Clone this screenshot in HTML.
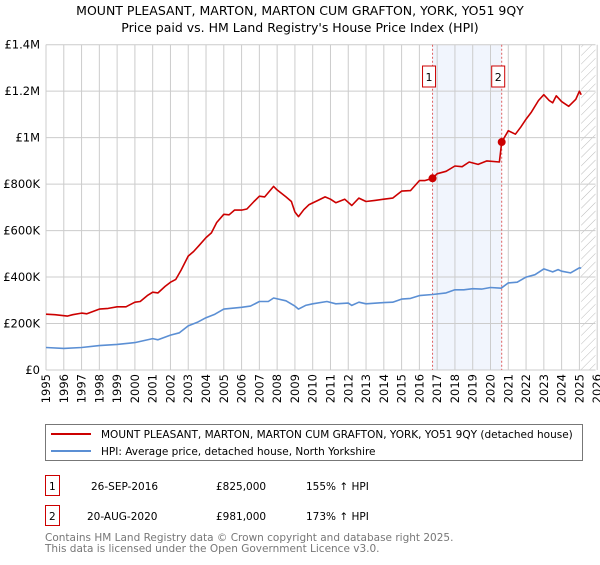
<!DOCTYPE html>
<html><head><meta charset="utf-8"><style>
body{margin:0;background:#fff;font-family:"Liberation Sans","DejaVu Sans",sans-serif;}
svg text{font-family:"DejaVu Sans","Liberation Sans",sans-serif;}
</style></head><body>
<svg id="c" width="600" height="560" xmlns="http://www.w3.org/2000/svg">
<text x="300" y="15" font-size="12.5" text-anchor="middle">MOUNT PLEASANT, MARTON, MARTON CUM GRAFTON, YORK, YO51 9QY</text>
<text x="300" y="32" font-size="12.5" text-anchor="middle">Price paid vs. HM Land Registry's House Price Index (HPI)</text>
<g id="plot"></g>
<rect x="45.5" y="424.5" width="537" height="36" fill="none" stroke="#777"/>
<line x1="51" y1="434" x2="91" y2="434" stroke="#cc0000" stroke-width="2"/>
<text x="101" y="438" font-size="10.5">MOUNT PLEASANT, MARTON, MARTON CUM GRAFTON, YORK, YO51 9QY (detached house)</text>
<line x1="51" y1="451" x2="91" y2="451" stroke="#5b8fd4" stroke-width="2"/>
<text x="101" y="455" font-size="10.5">HPI: Average price, detached house, North Yorkshire</text>
<g>
<rect x="45.5" y="475.5" width="14" height="20" fill="none" stroke="#cc0000"/>
<text x="49" y="490" font-size="10.5">1</text>
<text x="91" y="490" font-size="10.5">26-SEP-2016</text>
<text x="216" y="490" font-size="10.5">£825,000</text>
<text x="306" y="490" font-size="10.5">155% ↑ HPI</text></g>
<g>
<rect x="45.5" y="505.5" width="14" height="20" fill="none" stroke="#cc0000"/>
<text x="49" y="520" font-size="10.5">2</text>
<text x="87" y="520" font-size="10.5">20-AUG-2020</text>
<text x="216" y="520" font-size="10.5">£981,000</text>
<text x="306" y="520" font-size="10.5">173% ↑ HPI</text></g>
<text x="45" y="541" font-size="10.5" fill="#777">Contains HM Land Registry data © Crown copyright and database right 2025.</text>
<text x="45" y="552" font-size="10.5" fill="#777">This data is licensed under the Open Government Licence v3.0.</text>
</svg>
<script>
const yTicks=[0,200000,400000,600000,800000,1000000,1200000,1400000];
const yTickLabels=["£0","£200K","£400K","£600K","£800K","£1M","£1.2M","£1.4M"];
const years=[1995,1996,1997,1998,1999,2000,2001,2002,2003,2004,2005,2006,2007,2008,2009,2010,2011,2012,2013,2014,2015,2016,2017,2018,2019,2020,2021,2022,2023,2024,2025,2026];
const propT=[1995,1995.5,1996.2,1996.5,1997,1997.3,1998,1998.5,1999,1999.5,2000,2000.3,2000.7,2001,2001.3,2001.7,2002,2002.3,2002.6,2003,2003.3,2003.6,2004,2004.3,2004.6,2005,2005.3,2005.6,2006,2006.3,2006.7,2007,2007.3,2007.8,2008,2008.5,2008.8,2009,2009.2,2009.5,2009.8,2010.3,2010.7,2011,2011.3,2011.8,2012.2,2012.6,2013,2013.5,2014,2014.5,2015,2015.5,2016,2016.3,2016.74,2017,2017.5,2018,2018.4,2018.8,2019.3,2019.8,2020.5,2020.63,2021,2021.4,2021.7,2022,2022.3,2022.7,2023,2023.3,2023.5,2023.7,2024,2024.4,2024.8,2025,2025.1];
const propV=[240,238,232,238,245,242,262,265,272,272,292,295,320,335,332,360,378,390,430,490,510,535,570,590,635,670,668,688,688,693,725,748,745,790,775,745,725,680,660,690,712,730,745,735,720,735,708,740,725,730,735,740,770,772,815,815,825,845,855,878,875,895,885,900,895,981,1030,1015,1045,1080,1110,1160,1185,1160,1150,1180,1155,1135,1165,1200,1185];
const hpiT=[1995,1996,1997,1998,1999,2000,2001,2001.3,2002,2002.5,2003,2003.5,2004,2004.5,2005,2006,2006.5,2007,2007.5,2007.8,2008.5,2009,2009.2,2009.6,2010,2010.8,2011.3,2012,2012.2,2012.6,2013,2014,2014.5,2015,2015.5,2016,2016.74,2017.5,2018,2018.5,2019,2019.5,2020,2020.6,2021,2021.5,2022,2022.5,2023,2023.5,2023.8,2024,2024.5,2025,2025.1];
const hpiV=[97,93,97,105,110,118,135,130,150,160,190,205,225,240,262,270,275,295,295,310,298,275,262,278,285,295,285,288,278,292,285,290,292,305,308,320,325,332,345,345,350,348,355,352,375,378,400,410,435,422,432,425,418,440,438];
const saleT=[2016.74,2020.63];
const saleV=[825000,981000];
const saleLabels=["1","2"];
const X0=46,X1=595.5;
const x=t=>X0+(t-1995)*17.78;
const y=v=>370-v/1400000*325.3;
const NS="http://www.w3.org/2000/svg";
const g=document.getElementById('plot');
function mk(tag,attrs,parent){const e=document.createElementNS(NS,tag);for(const k in attrs)e.setAttribute(k,attrs[k]);(parent||g).appendChild(e);return e;}
// shading between sales
let sh=mk('rect',{x:x(saleT[0]),y:y(1400000),width:x(saleT[1])-x(saleT[0]),height:y(0)-y(1400000),fill:'#eef3fc',opacity:0.8});


// hatch region
const defs=mk('defs',{});
const pat=mk('pattern',{id:'h',width:6,height:6,patternUnits:'userSpaceOnUse',patternTransform:'rotate(45)'},defs);
mk('line',{x1:0,y1:0,x2:0,y2:6,stroke:'#bbb','stroke-width':1},pat);
let hx=x(2025.1);
let hr=mk('rect',{x:hx,y:y(1400000),width:X1-hx,height:y(0)-y(1400000),fill:'url(#h)'});


// grid
yTicks.forEach((v,i)=>{
 let l=mk('line',{x1:X0,x2:X1,y1:y(v),y2:y(v),stroke:'#ccc'});
 
 
 let t=mk('text',{x:X0-6,y:y(v)+4,'font-size':11.5,'text-anchor':'end'});
 t.textContent=yTickLabels[i];
 
 
});
years.forEach(yr=>{
 let l=mk('line',{x1:x(yr),x2:x(yr),y1:y(1400000),y2:y(0),stroke:'#ccc'});
 
 
 let t=mk('text',{x:0,y:0,'font-size':11.5,'text-anchor':'end',transform:`translate(${x(yr)+4},374) rotate(-90)`});
 t.textContent=yr;
 
 
});
mk('line',{x1:X0,x2:X0,y1:y(1400000),y2:y(0),stroke:'#ccc'});
// sale vlines
saleT.forEach((t,i)=>{
 let l=mk('line',{x1:x(t),x2:x(t),y1:y(1400000),y2:y(0),stroke:'#e06060','stroke-dasharray':'2,2'});
 
 
 let b=mk('rect',{x:x(t)-10,y:66,width:13,height:21,fill:'#fff',stroke:'#cc0000'});
 
 
 let tx=mk('text',{x:x(t)-3.5,y:81,'font-size':11,'text-anchor':'middle'});
 tx.textContent=saleLabels[i];
 
 
});
function line(T,V,col,name){
 const d=T.map((t,i)=>(i?'L':'M')+x(t).toFixed(1)+','+y(V[i]*1000).toFixed(1)).join('');
 let p=mk('path',{d:d,fill:'none',stroke:col,'stroke-width':1.6,'stroke-linejoin':'round'});
 
 
}
line(hpiT,hpiV,'#5b8fd4','hpi-line');
line(propT,propV,'#cc0000','property-line');
saleT.forEach((t,i)=>{
 let c=mk('circle',{cx:x(t),cy:y(saleV[i]),r:4,fill:'#cc0000'});
 
 
});
</script>
</body></html>
